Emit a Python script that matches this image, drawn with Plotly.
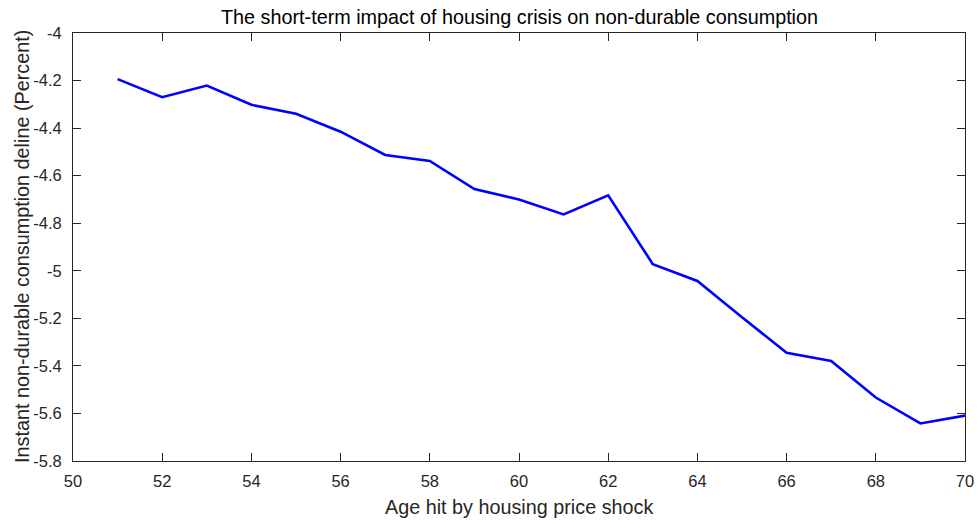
import plotly.graph_objects as go

ages = list(range(51, 71))
decline = [-4.194, -4.270, -4.221, -4.302, -4.340, -4.415, -4.513, -4.538, -4.656, -4.700,
           -4.763, -4.683, -4.972, -5.043, -5.195, -5.345, -5.379, -5.533, -5.642, -5.609]

x_ticks = [50, 52, 54, 56, 58, 60, 62, 64, 66, 68, 70]
y_ticks = [-4.0, -4.2, -4.4, -4.6, -4.8, -5.0, -5.2, -5.4, -5.6, -5.8]
y_tick_text = ["-4", "-4.2", "-4.4", "-4.6", "-4.8", "-5", "-5.2", "-5.4", "-5.6", "-5.8"]

title = "The short-term impact of housing crisis on non-durable consumption"
x_title = "Age hit by housing price shock"
y_title = "Instant non-durable consumption deline (Percent)"

FONT = "Liberation Sans, Arial, sans-serif"
AX = "#262626"

fig = go.Figure()
fig.add_trace(go.Scatter(x=ages, y=decline, mode="lines",
                         line=dict(color="#0000FF", width=2.6)))

axis_common = dict(
    showline=True, linecolor=AX, linewidth=1, mirror="ticks",
    ticks="inside", ticklen=8, tickcolor=AX, tickwidth=1,
    showgrid=False, zeroline=False, automargin=False,
    tickfont=dict(family=FONT, size=16.5, color=AX),
)

fig.update_layout(
    width=979, height=523,
    margin=dict(l=72.5, r=13.7, t=33.3, b=62.3, autoexpand=False),
    plot_bgcolor="white", paper_bgcolor="white",
    showlegend=False,
    xaxis=dict(range=[50, 70], tickvals=x_ticks, ticklabelstandoff=5, **axis_common),
    yaxis=dict(range=[-5.8, -4.0], tickvals=y_ticks, ticktext=y_tick_text,
               ticklabelstandoff=7, **axis_common),
    annotations=[
        dict(text=title, xref="paper", yref="paper", x=0.5, y=1, xanchor="center",
             yanchor="middle", yshift=16, showarrow=False,
             font=dict(family=FONT, size=19.8, color="black")),
        dict(text=x_title, xref="paper", yref="paper", x=0.5, y=0, xanchor="center",
             yanchor="middle", yshift=-46, showarrow=False,
             font=dict(family=FONT, size=19.8, color=AX)),
        dict(text=y_title, xref="paper", yref="paper", x=0, y=0.5, xanchor="center",
             yanchor="middle", xshift=-51, textangle=-90, showarrow=False,
             font=dict(family=FONT, size=19.8, color=AX)),
    ],
)

fig.write_html("out.html", config={"displayModeBar": False},
               post_script="document.body.style.margin='0';document.body.style.overflow='hidden';")
